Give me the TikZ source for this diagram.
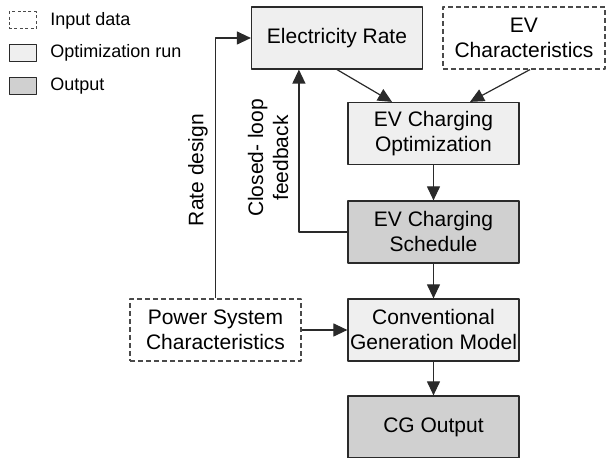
\documentclass[tikz,border=0pt]{standalone}
\usepackage{fontspec}
\setmainfont{Liberation Sans}
\usetikzlibrary{arrows.meta,calc}
\definecolor{runfill}{HTML}{EFEFEF}
\definecolor{outfill}{HTML}{D0D0D0}
\definecolor{edge}{HTML}{2A2A2A}
\tikzset{
  box/.style={draw=edge, line width=0.6pt, minimum width=85.5pt, minimum height=31pt, align=center, inner sep=1pt},
  inputbox/.style={box, draw=edge!85, dashed, dash pattern=on 2.5pt off 1.5pt, fill=white},
  runbox/.style={box, fill=runfill},
  outbox/.style={box, fill=outfill},
  keybox/.style={draw=edge, line width=0.5pt, minimum width=13.5pt, minimum height=8.5pt, inner sep=0pt},
  keytext/.style={anchor=west, font=\fontsize{9}{11}\selectfont, inner sep=0pt},
  flow/.style={-{Triangle[length=7pt,width=6.5pt]}, draw=edge, line width=0.6pt},
}
\begin{document}
\begin{tikzpicture}[x=0.5pt, y=-0.5pt, font=\fontsize{10.5}{12.5}\selectfont, line join=round]
					\useasboundingbox (0,0) rectangle (607,458);
					% legend
					\node[keybox, draw=edge!85, dashed, dash pattern=on 1.5pt off 1.2pt] (keyin) at (22.5,20.5) {};
					\node[keybox, fill=runfill] (keyrun) at (22.5,53) {};
					\node[keybox, fill=outfill] (keyout) at (22.5,86) {};
					\node[keytext] (keyintext) at (50,20.5) {Input data};
					\node[keytext] (keyruntext) at (50,53) {Optimization run};
					\node[keytext] (keyouttext) at (50,86) {Output};
					% blocks
					\node[runbox] (rate) at (337,38) {Electricity Rate};
					\node[inputbox, minimum width=81pt] (evc) at (524,38) {EV\\Characteristics};
					\node[runbox] (opt) at (433.5,133.5) {EV Charging\\Optimization};
					\node[outbox] (sched) at (433.5,232) {EV Charging\\Schedule};
					\node[runbox] (conv) at (433.5,330) {Conventional\\Generation Model};
					\node[outbox] (cg) at (433.5,427) {CG Output};
					\node[inputbox] (psc) at (215.5,330) {Power System\\Characteristics};
					% connectors
					\draw[flow] (rate.south) -- ($(opt.north)+(-41.5,0)$);
					\draw[flow] ($(evc.south)+(6,0)$) -- ($(opt.north)+(36.5,0)$);
					\draw[flow] (opt) -- (sched);
					\draw[flow] (sched) -- (conv);
					\draw[flow] (conv) -- (cg);
					\draw[flow] (psc) -- (conv);
					\draw[flow] (psc.north) |- (rate.west);
					\draw[flow] (sched.west) -| ($(rate.south west)+(48,0)$);
					% labels
					\node[rotate=90] (ratelbl) at (198,170) {Rate design};
					\node[rotate=90, align=center] (looplbl) at (268,158) {Closed- loop\\feedback};
				\end{tikzpicture}
\end{document}
